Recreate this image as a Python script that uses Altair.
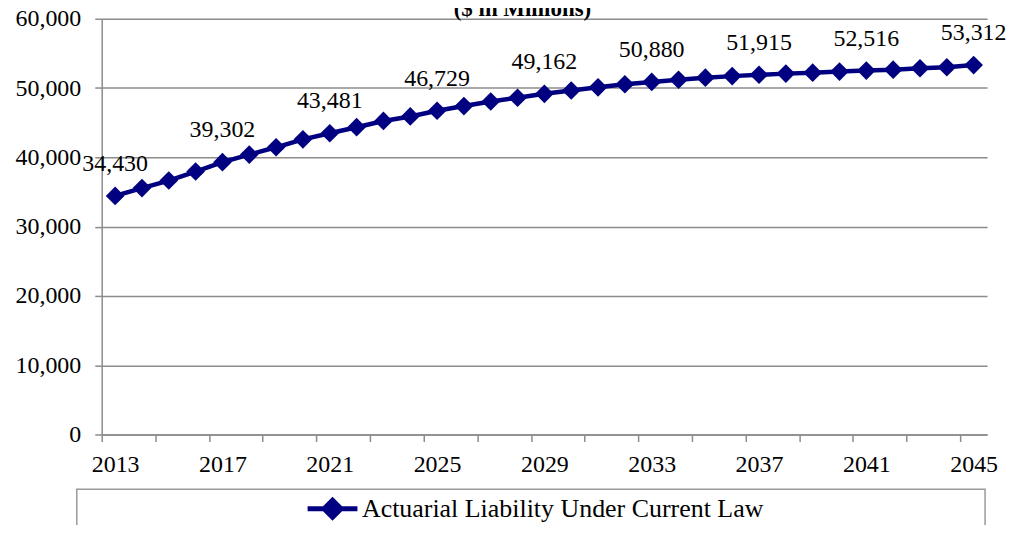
import altair as alt
import pandas as pd

years = list(range(2013, 2046))
liability = [34430, 35560, 36650, 37950, 39302, 40400, 41450, 42600, 43481,
             44350, 45250, 45900, 46729, 47400, 48050, 48600, 49162, 49650,
             50100, 50550, 50880, 51200, 51500, 51720, 51915, 52080, 52220,
             52370, 52516, 52650, 52850, 53000, 53312]
series_name = "Actuarial Liability Under Current Law"
subtitle = "($ in Millions)"
label_step = 4
y_ticks = [0, 10000, 20000, 30000, 40000, 50000, 60000]

df = pd.DataFrame({"year": years, "value": liability, "series": series_name})
label_df = df.iloc[::label_step].reset_index(drop=True)

W, H = 888, 417
FONT = "Liberation Serif"
NAVY = "#000080"
GRID = "#8c8c8c"

x_lo, x_hi = years[0] - 0.5, years[-1] + 0.5
boundaries = [y - 0.5 for y in years] + [x_hi]
step_px = W / len(years)
label_expr = (f"(datum.value + 0.5 - {years[0]}) % {label_step} == 0 ? "
              f"format(datum.value + 0.5, 'd') : ''")

x_enc = alt.X(
    "year:Q",
    scale=alt.Scale(domain=[x_lo, x_hi], nice=False, zero=False),
    axis=alt.Axis(values=boundaries, labelExpr=label_expr, labelOffset=step_px / 2,
                  labelFlush=False, labelOverlap=False, grid=False, title=None,
                  domainColor=GRID, domainWidth=1.5, tickColor=GRID, tickWidth=1.5,
                  tickSize=7, labelFont=FONT, labelFontSize=24, labelColor="black",
                  labelPadding=11),
)
y_enc = alt.Y(
    "value:Q",
    scale=alt.Scale(domain=[0, 60000], nice=False),
    axis=alt.Axis(values=y_ticks, format=",d", grid=True, gridColor=GRID, gridWidth=1.5,
                  domainColor=GRID, domainWidth=1.5, tickColor=GRID, tickWidth=1.5,
                  tickSize=7, labelFont=FONT, labelFontSize=24, labelColor="black",
                  labelPadding=14, title=None),
)

legend_path = "M-1,0L1,0M0,-0.34L0.34,0L0,0.34L-0.34,0Z"

line = alt.Chart(df).mark_line(
    strokeWidth=4.5,
    point=alt.OverlayMarkDef(shape="diamond", size=350, filled=True, opacity=1),
).encode(
    x=x_enc,
    y=y_enc,
    color=alt.Color(
        "series:N",
        scale=alt.Scale(range=[NAVY]),
        legend=alt.Legend(
            title=None, orient="none", legendX=204, legendY=464, padding=0,
            symbolType=legend_path, symbolSize=2500, symbolStrokeWidth=5,
            symbolFillColor=NAVY, symbolStrokeColor=NAVY, symbolOpacity=1,
            labelFont=FONT, labelFontSize=26, labelColor="black", labelOffset=2,
            labelLimit=0,
        ),
    ),
)

labels = alt.Chart(label_df).mark_text(
    font=FONT, fontSize=24, color="black", dy=-32, baseline="middle", align="center"
).encode(
    x=alt.X("year:Q"),
    y=alt.Y("value:Q"),
    text=alt.Text("value:Q", format=","),
)

frame = alt.Chart(pd.DataFrame({"k": [0]})).mark_rect(
    fill="white", stroke="#9a9a9a", strokeWidth=1.5
).encode(
    x=alt.value(-25), x2=alt.value(886), y=alt.value(472), y2=alt.value(540)
)

title = alt.Chart(pd.DataFrame({"t": [subtitle]})).mark_text(
    font=FONT, fontSize=23, fontWeight="bold", color="black", baseline="alphabetic",
    align="center"
).encode(
    x=alt.value(422), y=alt.value(-3), text="t:N"
)

chart = alt.layer(frame, line, labels, title).properties(
    width=W, height=H,
    autosize=alt.AutoSizeParams(type="none"),
    padding={"left": 94, "top": 10, "right": 20, "bottom": 90},
).configure_view(stroke=None)

chart.save("out.html", embed_options={"renderer": "svg", "actions": False})
